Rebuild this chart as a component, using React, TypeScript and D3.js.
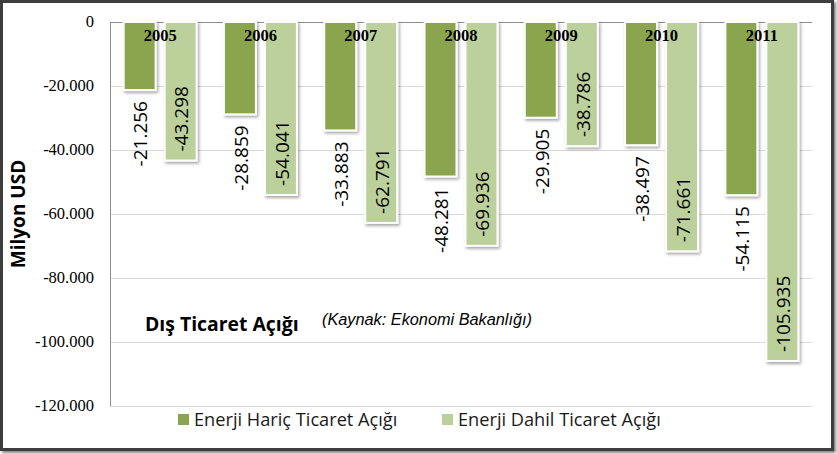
import React from "react";
import * as d3 from "d3";

const years = ["2005", "2006", "2007", "2008", "2009", "2010", "2011"];
const seriesNames = ["Enerji Hariç Ticaret Açığı", "Enerji Dahil Ticaret Açığı"];
const energyExcl = [-21256, -28859, -33883, -48281, -29905, -38497, -54115];
const energyIncl = [-43298, -54041, -62791, -69936, -38786, -71661, -105935];
const yTicks = [0, -20000, -40000, -60000, -80000, -100000, -120000];
const colors = ["#8AA54E", "#BBD09A"];
const title = "Dış Ticaret Açığı";
const source = "(Kaynak: Ekonomi Bakanlığı)";
const yTitle = "Milyon USD";

const W = 837;
const H = 454;
const plot = { left: 110, right: 812, top: 22, bottom: 406 };

const locale = d3.formatLocale({
  decimal: ",",
  thousands: ".",
  grouping: [3],
  currency: ["", ""],
  minus: "-",
});
const fmt = locale.format(",");

export default function App() {
  const y = d3.scaleLinear().domain([-120000, 0]).range([plot.bottom, plot.top]);
  const x0 = d3.scaleBand<string>().domain(years).range([plot.left, plot.right]);
  const x1 = d3
    .scaleBand<string>()
    .domain(["a", "b"])
    .range([0, x0.bandwidth()])
    .paddingInner(0.22)
    .paddingOuter(0.333);
  const data = [energyExcl, energyIncl];

  return (
    <svg
      width={W}
      height={H}
      style={{ position: "absolute", left: 0, top: 0, display: "block" }}
    >
      <defs>
        <filter id="sh" x="-30%" y="-10%" width="160%" height="120%">
          <feDropShadow dx="1.5" dy="2" stdDeviation="1.5" floodColor="#000" floodOpacity="0.35" />
        </filter>
        <filter id="fsh" x="-5%" y="-5%" width="110%" height="110%">
          <feDropShadow dx="2" dy="2" stdDeviation="1.5" floodColor="#000" floodOpacity="0.5" />
        </filter>
      </defs>
      <rect x={0} y={0} width={W} height={H} fill="#ffffff" />
      <rect
        x={1.5}
        y={1.5}
        width={W - 6}
        height={H - 6}
        fill="#fff"
        stroke="#3c3c3c"
        strokeWidth={3}
        filter="url(#fsh)"
      />
      {/* gridlines */}
      {yTicks.map((t) => (
        <line
          key={"g" + t}
          x1={plot.left}
          x2={plot.right}
          y1={y(t) + 0.5}
          y2={y(t) + 0.5}
          stroke={t === 0 ? "#8c8c8c" : "#d9d9d9"}
          strokeWidth={1}
        />
      ))}
      <line x1={plot.left + 0.5} x2={plot.left + 0.5} y1={plot.top} y2={plot.bottom} stroke="#8c8c8c" />
      {/* y tick labels */}
      {yTicks.map((t) => (
        <text
          key={"t" + t}
          x={94}
          y={y(t)}
          dy="0.33em"
          textAnchor="end"
          fontFamily="Liberation Serif"
          fontSize={16.5}
          fill="#000"
        >
          {fmt(t)}
        </text>
      ))}
      <text
        transform={`translate(25,214) rotate(-90)`}
        textAnchor="middle"
        fontFamily="Open Sans"
        fontWeight="bold"
        fontSize={19}
        fill="#000"
      >
        {yTitle}
      </text>
      {/* bars */}
      {data.map((vals, si) =>
        vals.map((v, i) => {
          const bx = (x0(years[i]) as number) + (x1(si === 0 ? "a" : "b") as number);
          const bw = x1.bandwidth();
          return (
            <rect
              key={`b${si}-${i}`}
              x={bx}
              y={y(0)}
              width={bw}
              height={y(v) - y(0)}
              fill={colors[si]}
              stroke="#ffffff"
              strokeWidth={2}
              filter="url(#sh)"
            />
          );
        })
      )}
      {/* year labels */}
      {years.map((yr) => (
        <text
          key={"y" + yr}
          x={(x0(yr) as number) + x0.bandwidth() / 2}
          y={41}
          textAnchor="middle"
          fontFamily="Liberation Serif"
          fontWeight="bold"
          fontSize={16.5}
          fill="#000"
        >
          {yr}
        </text>
      ))}
      {/* value labels */}
      {data.map((vals, si) =>
        vals.map((v, i) => {
          const cx =
            (x0(years[i]) as number) + (x1(si === 0 ? "a" : "b") as number) + x1.bandwidth() / 2;
          const ye = y(v);
          const outside = si === 0;
          return (
            <text
              key={`l${si}-${i}`}
              transform={`translate(${cx + 1},${outside ? ye + 11 : ye - 9}) rotate(-90)`}
              dy="0.36em"
              textAnchor={outside ? "end" : "start"}
              fontFamily="Open Sans"
              fontSize={19}
              fill="#000"
            >
              {fmt(v)}
            </text>
          );
        })
      )}
      {/* title */}
      <text x={145} y={331} fontFamily="Open Sans" fontWeight="bold" fontSize={19.4} fill="#000">
        {title}
      </text>
      <text x={322} y={325} fontFamily="Liberation Sans" fontStyle="italic" fontSize={16.3} fill="#000">
        {source}
      </text>
      {/* legend */}
      {seriesNames.map((n, i) => {
        const lx = i === 0 ? 178 : 442;
        return (
          <g key={"lg" + i}>
            <rect x={lx} y={414} width={11} height={11} fill={colors[i]} />
            <text x={lx + 16} y={426} fontFamily="Open Sans" fontSize={18.2} fill="#1a1a1a">
              {n}
            </text>
          </g>
        );
      })}
    </svg>
  );
}
